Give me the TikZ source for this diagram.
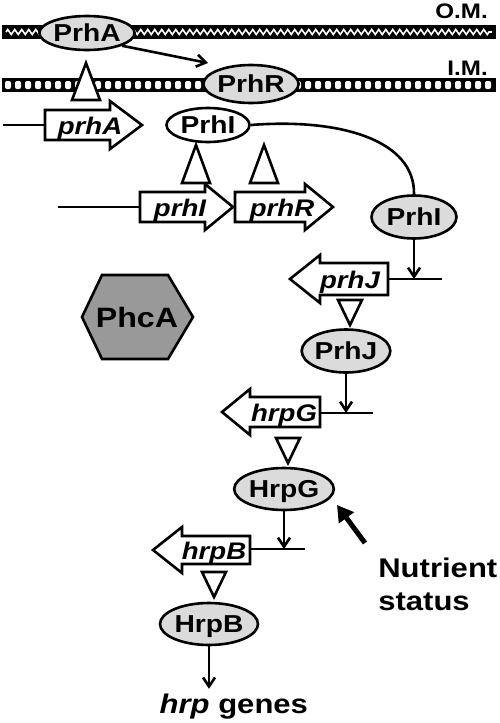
\documentclass[tikz,border=0pt]{standalone}
\usepackage{fontspec}
\setmainfont{Liberation Sans}[FakeStretch=1.15]
\usetikzlibrary{shapes.geometric,arrows.meta,decorations.pathmorphing}
\tikzset{>={Straight Barb[length=9pt,width=12pt]}}
\definecolor{protgray}{gray}{0.86}
\definecolor{phcgray}{gray}{0.6}

\begin{document}
\begin{tikzpicture}[x=1pt,y=-1pt,line width=2.6pt]
  \tikzstyle{protein}=[ellipse,draw,fill=protgray,inner sep=0pt,text height=17.5pt,text depth=0pt,font=\fontsize{24.5}{26}\selectfont\bfseries]
  \tikzstyle{gene}=[draw,fill=white,line join=miter]
  \tikzstyle{genelab}=[inner sep=0pt,anchor=base,font=\fontsize{24}{26}\selectfont\bfseries\itshape]
  \tikzstyle{tri}=[draw,fill=white,line join=miter]
  \tikzstyle{memlab}=[inner sep=0pt,anchor=base east,font=\fontsize{21}{23}\selectfont\bfseries]
  \useasboundingbox (0,0) rectangle (500,723);

  % membranes
  \fill (2,25) rectangle (496,39);
  \draw[white,line width=1.6pt,decorate,decoration={zigzag,segment length=7pt,amplitude=2.5pt}] (6,32) -- (492,32);
  \fill (2,78) rectangle (496,92);
  \foreach \x in {5,15,...,490}
    \fill[white,rounded corners=2pt] (\x,81) rectangle ++(6,8);
  \node[memlab] (om) at (489,18) {O.M.};
  \node[memlab] (im) at (489,75) {I.M.};

  % genes
  \draw[gene] (45,110) -- (110,110) -- (110,101) -- (142,125) -- (110,149) -- (110,140) -- (45,140) -- cycle;
  \node[genelab] (prhA) at (90,134) {prhA};
  \draw[gene] (140,192) -- (205,192) -- (205,184) -- (233,207) -- (205,230) -- (205,222) -- (140,222) -- cycle;
  \node[genelab] (prhI) at (180,216) {prhI};
  \draw[gene] (235,192) -- (305,192) -- (305,184) -- (333,207) -- (305,230) -- (305,222) -- (235,222) -- cycle;
  \node[genelab] (prhR) at (282,216) {prhR};
  \draw[gene] (388,263) -- (320,263) -- (320,255) -- (290,279) -- (320,303) -- (320,295) -- (388,295) -- cycle;
  \node[genelab] (prhJ) at (350,288) {prhJ};
  \draw[gene] (320,397) -- (250,397) -- (250,389) -- (222,412) -- (250,435) -- (250,427) -- (320,427) -- cycle;
  \node[genelab] (hrpG) at (284,421) {hrpG};
  \draw[gene] (250,536) -- (182,536) -- (182,527) -- (153,550) -- (182,573) -- (182,564) -- (250,564) -- cycle;
  \node[genelab] (hrpB) at (214,559) {hrpB};

  % promoter lines
  \coordinate (prhAp) at (3,125);   \coordinate (prhAbox) at (45,125);
  \coordinate (prhIp) at (58,207);  \coordinate (prhIbox) at (140,207);
  \coordinate (prhJp) at (442,279); \coordinate (prhJbox) at (388,279);
  \coordinate (hrpGp) at (373,413); \coordinate (hrpGbox) at (320,413);
  \coordinate (hrpBp) at (305,549); \coordinate (hrpBbox) at (250,549);
  \draw (prhAp) -- (prhAbox);
  \draw (prhIp) -- (prhIbox);
  \draw (prhJbox) -- (prhJp);
  \draw (hrpGbox) -- (hrpGp);
  \draw (hrpBbox) -- (hrpBp);

  % triangles
  \foreach \x/\yb/\ya in {86/100/63, 196/183/145, 264/183/145}
    \draw[tri] (\x-14,\yb) -- (\x,\ya) -- (\x+14,\yb) -- cycle;
  \foreach \x/\yb/\ya in {350/300/325, 288/438/463, 214/572/597}
    \draw[tri] (\x-12,\yb) -- (\x,\ya) -- (\x+12,\yb) -- cycle;

  % proteins
  \node[protein,minimum width=82pt,minimum height=34pt] (PrhA) at (87,33) {PrhA};
  \node[protein,minimum width=79pt,minimum height=38pt] (PrhR) at (251,84) {PrhR};
  \node[protein,fill=white,minimum width=83pt,minimum height=34pt] (PrhI) at (208,125) {PrhI};
  \node[protein,minimum width=85pt,minimum height=43pt] (PrhIb) at (414,217) {PrhI};
  \node[protein,minimum width=82pt,minimum height=43pt] (PrhJ) at (346,351) {PrhJ};
  \node[protein,minimum width=98pt,minimum height=42pt] (HrpG) at (284,489) {HrpG};
  \node[protein,minimum width=98pt,minimum height=42pt] (HrpB) at (209,624) {HrpB};

  % PhcA
  \draw[fill=phcgray,line join=miter] (82,317) -- (102,275) -- (168,275) -- (193,317) -- (168,359) -- (102,359) -- cycle;
  \node[inner sep=0pt,text height=20pt,text depth=0pt,font=\fontsize{28}{30}\selectfont\bfseries] (PhcA) at (137,317) {PhcA};

  % arrows
  \coordinate (PrhAtip) at (208,63);
  \draw[->] (PrhA.-20) -- (PrhAtip);
  \draw (PrhI.east) .. controls (340,118) and (415,140) .. (PrhIb.north);
  \draw[->] (PrhIb) -- (PrhIb |- prhJp);
  \draw[->] (PrhJ) -- (PrhJ |- hrpGp);
  \draw[->] (HrpG) -- (HrpG |- hrpBp);

  \node[anchor=base west,font=\fontsize{27}{29}\selectfont\bfseries] (genes) at (155,713) {\textit{hrp} genes};
  \draw[->] (HrpB) -- (HrpB |- genes.north);

  \node[anchor=north west,align=left,inner sep=0pt,font=\fontsize{27}{33}\selectfont\bfseries] (nut) at (377,557) {Nutrient\\status};
  \coordinate (nutTail) at (365,543);
  \coordinate (nutTip) at (337,505);
  \draw[line width=5pt,-{Triangle[length=16pt,width=18pt]}] (nutTail) -- (nutTip);
\end{tikzpicture}
\end{document}
